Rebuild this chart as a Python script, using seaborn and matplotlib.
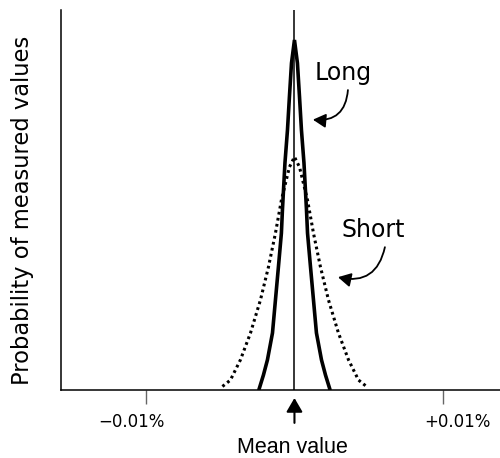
import matplotlib
matplotlib.use("Agg")
import matplotlib.pyplot as plt
import matplotlib.transforms as mtransforms
import seaborn as sns
import pandas as pd

# ---- data (x in %, y = relative probability) ----
long_x = [-0.00239, -0.00209, -0.00182, -0.00148, -0.00128, -0.00108, -0.00088, -0.00081,
          -0.00064, -0.00047, -0.00034, -0.00020, 0.0,
          0.00020, 0.00034, 0.00047, 0.00064, 0.00081, 0.00088, 0.00108, 0.00128,
          0.00148, 0.00182, 0.00209, 0.00239]
long_y = [0.0, 0.038, 0.078, 0.149, 0.236, 0.323, 0.412, 0.473,
          0.597, 0.684, 0.771, 0.860, 0.921,
          0.860, 0.771, 0.684, 0.597, 0.473, 0.412, 0.323, 0.236,
          0.149, 0.078, 0.038, 0.0]

short_x = [-0.00485, -0.00431, -0.00364, -0.00296, -0.00229, -0.00175, -0.00128, -0.00088,
           -0.00034, 0.0, 0.00034, 0.00088, 0.00128, 0.00175, 0.00229, 0.00296,
           0.00364, 0.00431, 0.00485]
short_y = [0.008, 0.025, 0.078, 0.149, 0.236, 0.323, 0.412, 0.499,
           0.586, 0.613, 0.586, 0.499, 0.412, 0.323, 0.236, 0.149,
           0.078, 0.025, 0.008]

tick_pos = [-0.01, 0.01]
tick_labels = ["\u22120.01%", "+0.01%"]
series_names = ["Long", "Short"]
x_label = "Mean value"
y_label = "Probability of measured values"

sns.set_theme(style="white")
plt.rcParams["font.family"] = ["DejaVu Sans"]
plt.rcParams["text.color"] = "black"
plt.rcParams["axes.labelcolor"] = "black"
plt.rcParams["xtick.color"] = "black"

fig = plt.figure(figsize=(5.0, 4.58), dpi=100)
ax = fig.add_axes([0.122, 0.14956, 0.878, 0.82861])

df_long = pd.DataFrame({"x": long_x, "y": long_y})
df_short = pd.DataFrame({"x": short_x, "y": short_y})

sns.lineplot(data=df_short, x="x", y="y", ax=ax, sort=False, estimator=None,
             color="black", lw=2.2, linestyle=(0, (0.9, 1.1)))
sns.lineplot(data=df_long, x="x", y="y", ax=ax, sort=False, estimator=None,
             color="black", lw=2.6, solid_joinstyle="miter")

ax.axvline(0, color="black", lw=1.1, zorder=1)

ax.set_xlim(-0.01572, 0.01384)
ax.set_ylim(0, 1)

for s in ["top", "right"]:
    ax.spines[s].set_visible(False)
for s in ["left", "bottom"]:
    ax.spines[s].set_color("black")
    ax.spines[s].set_linewidth(1.1)

ax.set_yticks([])
ax.set_xticks(tick_pos, tick_labels)
ax.tick_params(axis="x", direction="out", length=10, width=1.0, color="#666666",
               labelcolor="black", pad=7, labelsize=12, bottom=True)
ax.set_xlabel("")
ax.set_ylabel("")

offsets = [-15, 14]
for lab, dx in zip(ax.get_xticklabels(), offsets):
    lab.set_transform(lab.get_transform() +
                      mtransforms.ScaledTranslation(dx / 100, 0, fig.dpi_scale_trans))

# series labels with curved arrows
ax.text(0.00325, 0.816, series_names[0], ha="center", va="baseline", fontsize=17,
        color="black")
ax.text(0.00532, 0.402, series_names[1], ha="center", va="baseline", fontsize=17,
        color="black")

arrow_kw = dict(arrowstyle="-|>,head_length=0.55,head_width=0.3", color="black", lw=1.3,
                mutation_scale=14, shrinkA=0, shrinkB=0,
                connectionstyle="arc3,rad=-0.5")
ax.annotate("", xy=(0.00124, 0.711), xytext=(0.00360, 0.789), arrowprops=arrow_kw)
ax.annotate("", xy=(0.00293, 0.296), xytext=(0.00609, 0.375), arrowprops=arrow_kw)

# mean value arrow
ax.annotate("", xy=(0.0, -0.0224), xytext=(0.0, -0.088), annotation_clip=False,
            arrowprops=dict(arrowstyle="-|>,head_length=0.6,head_width=0.35", color="black",
                            lw=1.5, mutation_scale=14, shrinkA=0, shrinkB=0))

fig.text(0.585, 0.012, x_label, ha="center", va="baseline", fontsize=15.5,
         family="Liberation Sans", color="black")
fig.text(0.045, 0.541, y_label, ha="center", va="center", rotation=90, fontsize=16.3,
         color="black")

fig.savefig("out.png", dpi=100)
